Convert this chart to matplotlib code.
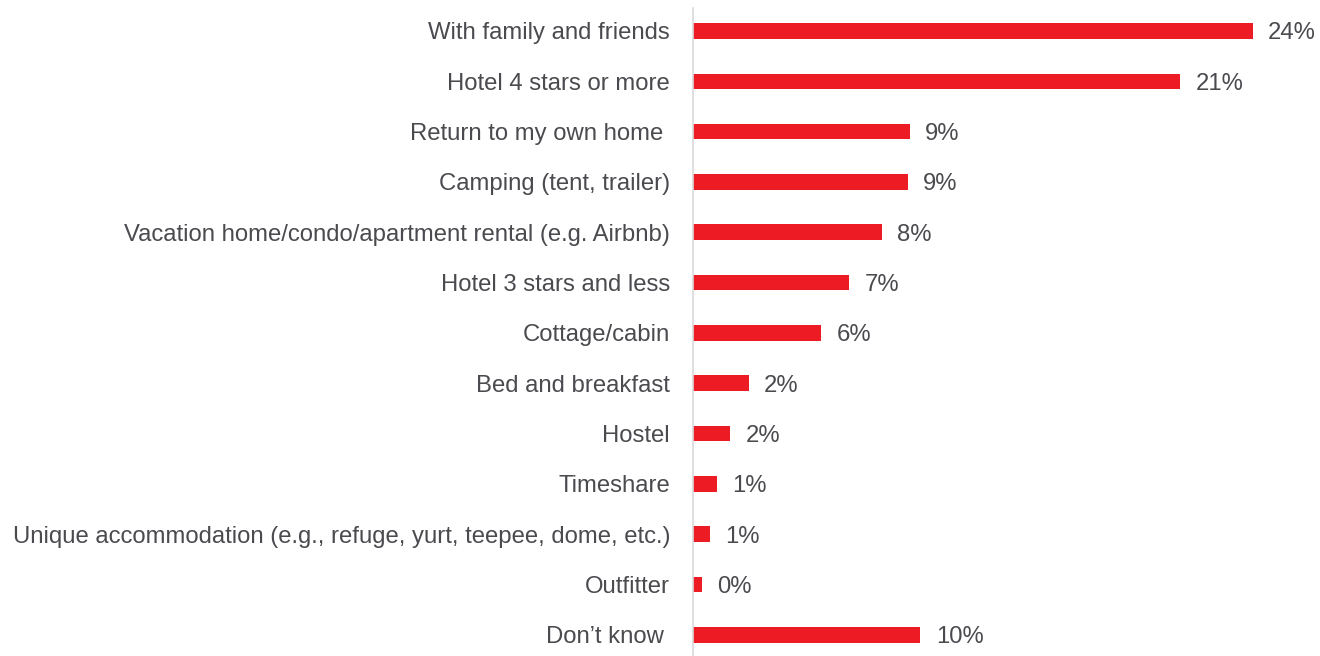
import matplotlib
matplotlib.use("Agg")
import matplotlib.pyplot as plt

categories = [
    "With family and friends",
    "Hotel 4 stars or more",
    "Return to my own home ",
    "Camping (tent, trailer)",
    "Vacation home/condo/apartment rental (e.g. Airbnb)",
    "Hotel 3 stars and less",
    "Cottage/cabin",
    "Bed and breakfast",
    "Hostel",
    "Timeshare",
    "Unique accommodation (e.g., refuge, yurt, teepee, dome, etc.)",
    "Outfitter",
    "Don\u2019t know ",
]
values = [24.0, 20.9, 9.3, 9.2, 8.1, 6.7, 5.5, 2.4, 1.6, 1.04, 0.72, 0.37, 9.75]
value_labels = ["24%", "21%", "9%", "9%", "8%", "7%", "6%", "2%", "2%", "1%", "1%", "0%", "10%"]

plt.rcParams['font.family'] = ['Liberation Sans', 'DejaVu Sans']
text_color = "#4a4a4f"
bar_color = "#ed1c24"
fs = 17.2

W, H = 1320, 656
fig = plt.figure(figsize=(W / 100, H / 100), dpi=100)
left_px, top_px = 693, 8
ax = fig.add_axes([left_px / W, 0, (W - left_px) / W, (H - top_px) / H])

n = len(categories)
ypos = list(range(n))
ax.barh(ypos, values, height=0.31, color=bar_color, edgecolor='none')
for y, v, lab in zip(ypos, values, value_labels):
    ax.annotate(lab, xy=(v, y), xytext=(11, 0), textcoords='offset points',
                va='center_baseline', ha='left', fontsize=fs, color=text_color)

ax.set_xlim(0, (W - left_px) / 23.32)
ax.set_ylim(n - 1 + 0.42, -0.457)
ax.set_yticks(ypos)
ax.set_yticklabels(categories, fontsize=fs, color=text_color)
ax.tick_params(axis='y', length=0, pad=16.5)
ax.set_xticks([])
for s in ['top', 'right', 'bottom']:
    ax.spines[s].set_visible(False)
ax.spines['left'].set_color('#d9d9d9')
ax.spines['left'].set_linewidth(1.2)
ax.set_facecolor('none')

fig.savefig("out.png", dpi=100)
